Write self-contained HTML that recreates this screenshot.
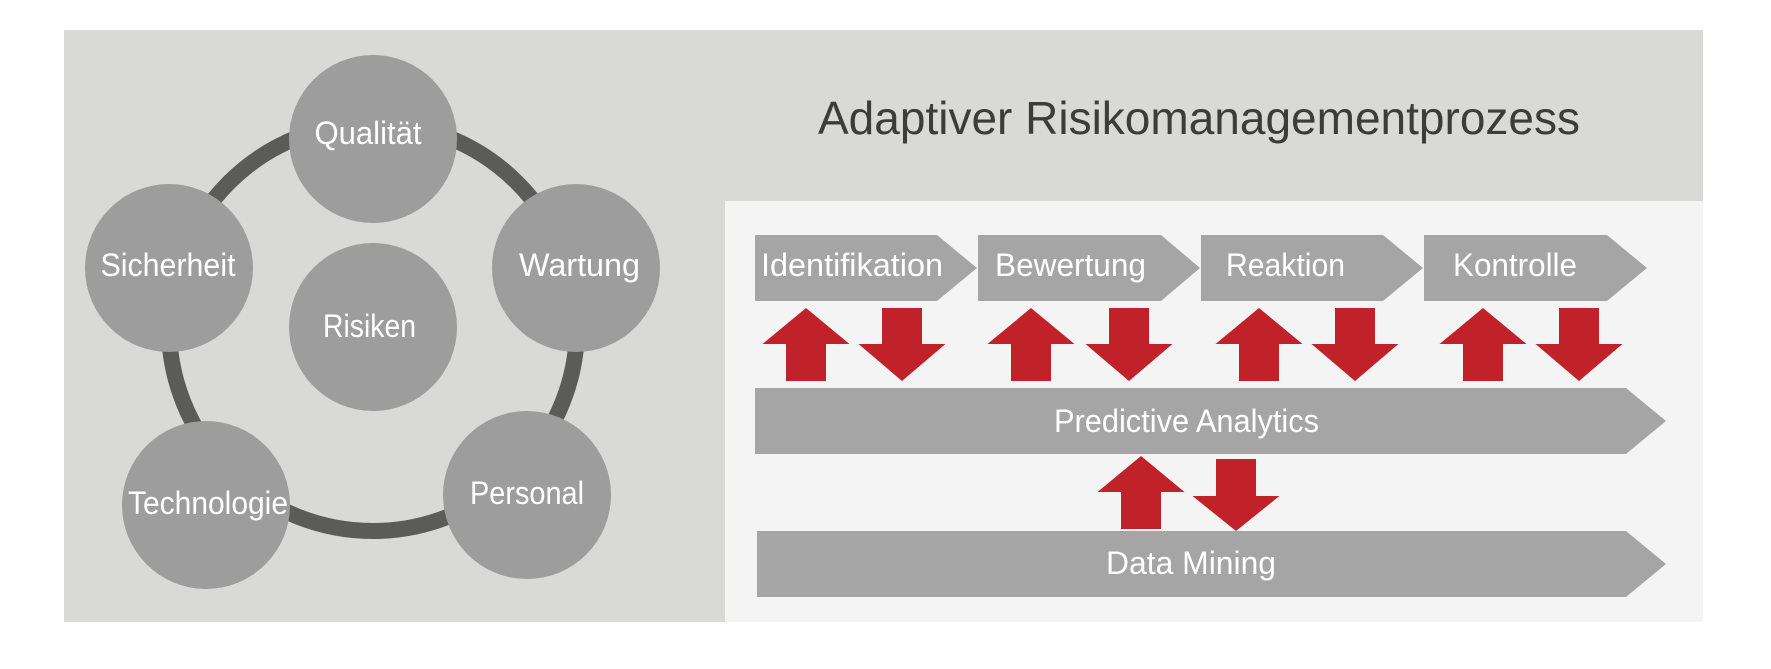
<!DOCTYPE html>
<html>
<head>
<meta charset="utf-8">
<style>
  html,body{margin:0;padding:0;background:#ffffff;}
  svg{display:block;}
  text{font-family:"Liberation Sans", Arial, sans-serif;}
</style>
</head>
<body>
<svg width="1771" height="669" viewBox="0 0 1771 669" xmlns="http://www.w3.org/2000/svg">
  <rect x="0" y="0" width="1771" height="669" fill="#ffffff"/>
  <!-- outer gray panel -->
  <rect x="64" y="30" width="1639" height="592" fill="#d9d9d8"/>
  <!-- light inner panel -->
  <rect x="725" y="201" width="978" height="421" fill="#f4f4f4"/>

  <!-- title -->
  <text x="818" y="134" font-size="46" fill="#3c3c3b" textLength="762" lengthAdjust="spacingAndGlyphs">Adaptiver Risikomanagementprozess</text>

  <!-- ring -->
  <circle cx="373" cy="327" r="204" fill="none" stroke="#5b5b59" stroke-width="16"/>

  <!-- circles -->
  <g fill="#9d9d9d">
    <circle cx="373" cy="139" r="84"/>
    <circle cx="169" cy="268" r="84"/>
    <circle cx="576" cy="268" r="84"/>
    <circle cx="373" cy="327" r="84"/>
    <circle cx="206" cy="505" r="84"/>
    <circle cx="527" cy="495" r="84"/>
  </g>
  <g fill="#ffffff" font-size="32" text-anchor="middle">
    <text x="368" y="144" textLength="107" lengthAdjust="spacingAndGlyphs">Qualität</text>
    <text x="168" y="276" textLength="135" lengthAdjust="spacingAndGlyphs">Sicherheit</text>
    <text x="579.5" y="276" textLength="121" lengthAdjust="spacingAndGlyphs">Wartung</text>
    <text x="369.5" y="337" textLength="93" lengthAdjust="spacingAndGlyphs">Risiken</text>
    <text x="208" y="514" textLength="160" lengthAdjust="spacingAndGlyphs">Technologie</text>
    <text x="527" y="504" textLength="114" lengthAdjust="spacingAndGlyphs">Personal</text>
  </g>

  <!-- chevrons -->
  <g fill="#a5a5a5">
    <polygon points="755,235 937,235 977,268 937,301 755,301"/>
    <polygon points="978,235 1161,235 1200,268 1161,301 978,301"/>
    <polygon points="1201,235 1383,235 1423,268 1383,301 1201,301"/>
    <polygon points="1424,235 1607,235 1647,268 1607,301 1424,301"/>
    <polygon points="755,388 1626,388 1666,421 1626,454 755,454"/>
    <polygon points="757,531 1626,531 1666,564 1626,597 757,597"/>
  </g>
  <g fill="#ffffff" font-size="32">
    <text x="761" y="276" textLength="182" lengthAdjust="spacingAndGlyphs">Identifikation</text>
    <text x="995" y="276" textLength="151" lengthAdjust="spacingAndGlyphs">Bewertung</text>
    <text x="1226" y="276" textLength="119" lengthAdjust="spacingAndGlyphs">Reaktion</text>
    <text x="1453" y="276" textLength="124" lengthAdjust="spacingAndGlyphs">Kontrolle</text>
    <text x="1054" y="432" textLength="265" lengthAdjust="spacingAndGlyphs">Predictive Analytics</text>
    <text x="1106" y="574" textLength="170" lengthAdjust="spacingAndGlyphs">Data Mining</text>
  </g>

  <!-- red arrows -->
  <g fill="#c1222a">
    <!-- up arrows: center c, tip 308, head base 344, bottom 381 -->
    <polygon points="806,308 849.5,344 826,344 826,381 786,381 786,344 762.5,344"/>
    <polygon points="1031,308 1074.5,344 1051,344 1051,381 1011,381 1011,344 987.5,344"/>
    <polygon points="1259,308 1302.5,344 1279,344 1279,381 1239,381 1239,344 1215.5,344"/>
    <polygon points="1483,308 1526.5,344 1503,344 1503,381 1463,381 1463,344 1439.5,344"/>
    <!-- down arrows -->
    <polygon points="882,308 922,308 922,344 945.5,344 902,381 858.5,344 882,344"/>
    <polygon points="1109,308 1149,308 1149,344 1172.5,344 1129,381 1085.5,344 1109,344"/>
    <polygon points="1335,308 1375,308 1375,344 1398.5,344 1355,381 1311.5,344 1335,344"/>
    <polygon points="1559,308 1599,308 1599,344 1622.5,344 1579,381 1535.5,344 1559,344"/>
    <!-- lower pair -->
    <polygon points="1141,456 1184.5,492 1161,492 1161,529 1121,529 1121,492 1097.5,492"/>
    <polygon points="1216,459 1256,459 1256,496 1279.5,496 1236,531 1192.5,496 1216,496"/>
  </g>
</svg>
</body>
</html>
